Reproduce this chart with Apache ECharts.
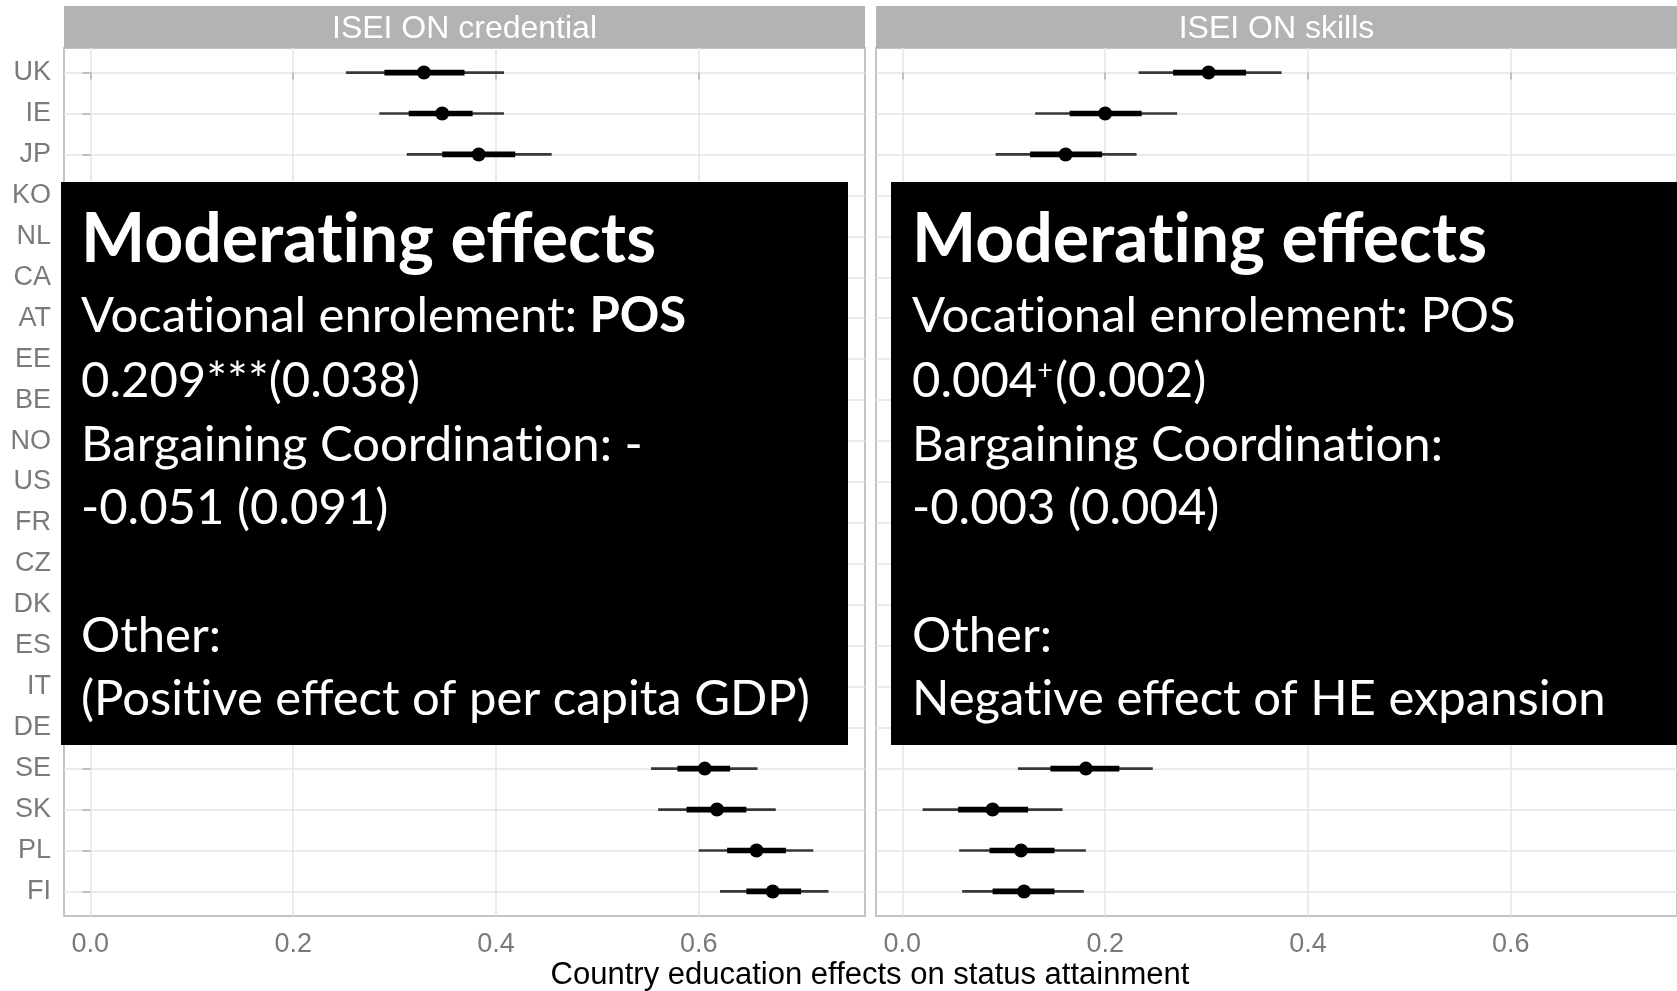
<!DOCTYPE html>
<html>
<head>
<meta charset="utf-8">
<script src="https://cdn.jsdelivr.net/npm/echarts@6/dist/echarts.min.js"></script>
<style>
html, body { margin: 0; padding: 0; background: #fff; }
#chart { width: 1677px; height: 991px; }
</style>
</head>
<body>
<div id="chart"></div>
<script>
var countries = ['UK', 'IE', 'JP', 'KO', 'NL', 'CA', 'AT', 'EE', 'BE', 'NO', 'US', 'FR', 'CZ', 'DK', 'ES', 'IT', 'DE', 'SE', 'SK', 'PL', 'FI'];
var panels = ['ISEI ON credential', 'ISEI ON skills'];
var xTicks = [0, 0.2, 0.4, 0.6];

// rows KO..DE are covered by the text boxes in the source, values unknown
var credPoint = [0.329, 0.347, 0.383, null, null, null, null, null, null, null, null, null, null, null, null, null, null, 0.606, 0.618, 0.657, 0.673];
var credLo66  = [0.290, 0.314, 0.347, null, null, null, null, null, null, null, null, null, null, null, null, null, null, 0.579, 0.588, 0.628, 0.647];
var credHi66  = [0.369, 0.377, 0.419, null, null, null, null, null, null, null, null, null, null, null, null, null, null, 0.631, 0.647, 0.686, 0.701];
var credLo95  = [0.252, 0.285, 0.312, null, null, null, null, null, null, null, null, null, null, null, null, null, null, 0.553, 0.560, 0.600, 0.621];
var credHi95  = [0.408, 0.408, 0.455, null, null, null, null, null, null, null, null, null, null, null, null, null, null, 0.658, 0.676, 0.713, 0.728];

var skillPoint = [0.302, 0.200, 0.161, null, null, null, null, null, null, null, null, null, null, null, null, null, null, 0.181, 0.089, 0.117, 0.120];
var skillLo66  = [0.267, 0.165, 0.126, null, null, null, null, null, null, null, null, null, null, null, null, null, null, 0.146, 0.055, 0.086, 0.089];
var skillHi66  = [0.339, 0.236, 0.197, null, null, null, null, null, null, null, null, null, null, null, null, null, null, 0.214, 0.124, 0.150, 0.150];
var skillLo95  = [0.233, 0.131, 0.092, null, null, null, null, null, null, null, null, null, null, null, null, null, null, 0.114, 0.020, 0.056, 0.059];
var skillHi95  = [0.374, 0.271, 0.231, null, null, null, null, null, null, null, null, null, null, null, null, null, null, 0.247, 0.158, 0.181, 0.179];

var credLines = [
    'Vocational enrolement: {b|POS}',
    '0.209***(0.038)',
    'Bargaining Coordination: -',
    '-0.051 (0.091)',
    '',
    'Other:',
    '(Positive effect of per capita GDP)'
];
var skillLines = [
    'Vocational enrolement: POS',
    '0.004{sup|+}(0.002)',
    'Bargaining Coordination:',
    '-0.003 (0.004)',
    '',
    'Other:',
    'Negative effect of HE expansion'
];
var boxTitle = 'Moderating effects';
var xTitle = 'Country education effects on status attainment';

function rows(point, lo66, hi66, lo95, hi95) {
    var out = [];
    for (var i = 0; i < countries.length; i++) {
        if (point[i] == null) continue;
        out.push([i, point[i], lo66[i], hi66[i], lo95[i], hi95[i]]);
    }
    return out;
}

// Lato joins "ti" into a ligature, the original (Calibri) does not
function noLig(s) {
    return s.replace(/ti/g, 't\u200Ci');
}

function renderInterval(params, api) {
    var y = api.value(0);
    var a = api.coord([api.value(4), y]);
    var b = api.coord([api.value(5), y]);
    var c = api.coord([api.value(2), y]);
    var d = api.coord([api.value(3), y]);
    var p = api.coord([api.value(1), y]);
    return {
        type: 'group',
        children: [
            { type: 'line', shape: { x1: a[0], y1: a[1], x2: b[0], y2: b[1] }, style: { stroke: '#383838', lineWidth: 2.7 } },
            { type: 'line', shape: { x1: c[0], y1: c[1], x2: d[0], y2: d[1] }, style: { stroke: '#000', lineWidth: 5.7 } },
            { type: 'circle', shape: { cx: p[0], cy: p[1], r: 7 }, style: { fill: '#000' } }
        ]
    };
}

var font = 'Liberation Sans';
var gridW = 801, gridTop = 48, gridH = 868;
var lefts = [64, 876];
var rowIdx = countries.map(function (c, i) { return i; });

var grids = [], xAxes = [], yAxes = [], series = [];
for (var k = 0; k < 2; k++) {
    grids.push({ left: lefts[k], top: gridTop, width: gridW, height: gridH, show: true, borderColor: '#c4c4c4', borderWidth: 2 });
    xAxes.push({
        type: 'value', gridIndex: k, min: -0.026, max: 0.764,
        axisLine: { show: false },
        axisTick: { show: true, length: 7, customValues: xTicks, lineStyle: { color: '#b3b3b3', width: 1.5 } },
        axisLabel: { customValues: xTicks, formatter: function (v) { return v.toFixed(1); }, color: '#7a7a7a', fontSize: 27, fontFamily: font, margin: 15 },
        splitLine: { show: true, lineStyle: { color: '#e4e4e4', width: 1.5 } }
    });
    yAxes.push({
        type: 'value', gridIndex: k, min: -0.6, max: 20.6, inverse: true,
        axisLine: { show: false },
        axisTick: { show: k === 0, length: 8, customValues: rowIdx, lineStyle: { color: '#b3b3b3', width: 1.5 } },
        axisLabel: { show: k === 0, customValues: rowIdx, formatter: function (v) { return countries[v]; }, color: '#7a7a7a', fontSize: 27, fontFamily: font, margin: 13 },
        splitLine: { show: true, lineStyle: { color: '#e4e4e4', width: 1.5 } }
    });
}
series.push({ type: 'custom', xAxisIndex: 0, yAxisIndex: 0, encode: { x: [1, 2, 3, 4, 5], y: 0 }, renderItem: renderInterval, data: rows(credPoint, credLo66, credHi66, credLo95, credHi95), z: 5 });
series.push({ type: 'custom', xAxisIndex: 1, yAxisIndex: 1, encode: { x: [1, 2, 3, 4, 5], y: 0 }, renderItem: renderInterval, data: rows(skillPoint, skillLo66, skillHi66, skillLo95, skillHi95), z: 5 });

var graphics = [];
for (var k = 0; k < 2; k++) {
    graphics.push({ type: 'rect', z: 50, shape: { x: lefts[k], y: 6, width: gridW, height: 42 }, style: { fill: '#b3b3b3' } });
    graphics.push({ type: 'text', z: 51, x: lefts[k] + gridW / 2, y: 29, style: { text: panels[k], fill: '#fff', fontSize: 32, fontFamily: font, align: 'center', verticalAlign: 'middle' } });
}

var boxFont = 'Lato';
var bodySize = 49;
var boxes = [{ x: 61, w: 787, tx: 81, lines: credLines }, { x: 891, w: 786, tx: 912, lines: skillLines }];
var lineMid = [316, 381, 445, 508, 572, 636, 699];
boxes.forEach(function (bx) {
    graphics.push({ type: 'rect', z: 100, shape: { x: bx.x, y: 182, width: bx.w, height: 563 }, style: { fill: '#000' } });
    graphics.push({ type: 'text', z: 101, x: bx.tx, y: 240, style: { text: noLig(boxTitle), fill: '#fff', fontSize: 68, fontWeight: 'bold', fontFamily: boxFont, align: 'left', verticalAlign: 'middle' } });
    bx.lines.forEach(function (t, i) {
        if (!t) return;
        graphics.push({
            type: 'text', z: 101, x: bx.tx, y: lineMid[i],
            style: {
                text: noLig(t), fill: '#fff', fontSize: bodySize, fontFamily: boxFont, align: 'left', verticalAlign: 'middle',
                rich: {
                    b: { fill: '#fff', fontSize: bodySize, fontFamily: boxFont, fontWeight: 'bold' },
                    sup: { fill: '#fff', fontSize: 27, fontFamily: boxFont, verticalAlign: 'top', padding: [0, 2, 20, 0] }
                }
            }
        });
    });
});
graphics.push({ type: 'text', z: 51, x: 870, y: 975, style: { text: xTitle, fill: '#000', fontSize: 31, fontFamily: font, align: 'center', verticalAlign: 'middle' } });

var chart = echarts.init(document.getElementById('chart'));
chart.setOption({
    animation: false,
    backgroundColor: '#fff',
    grid: grids,
    xAxis: xAxes,
    yAxis: yAxes,
    series: series,
    graphic: { elements: graphics }
});
</script>
</body>
</html>
